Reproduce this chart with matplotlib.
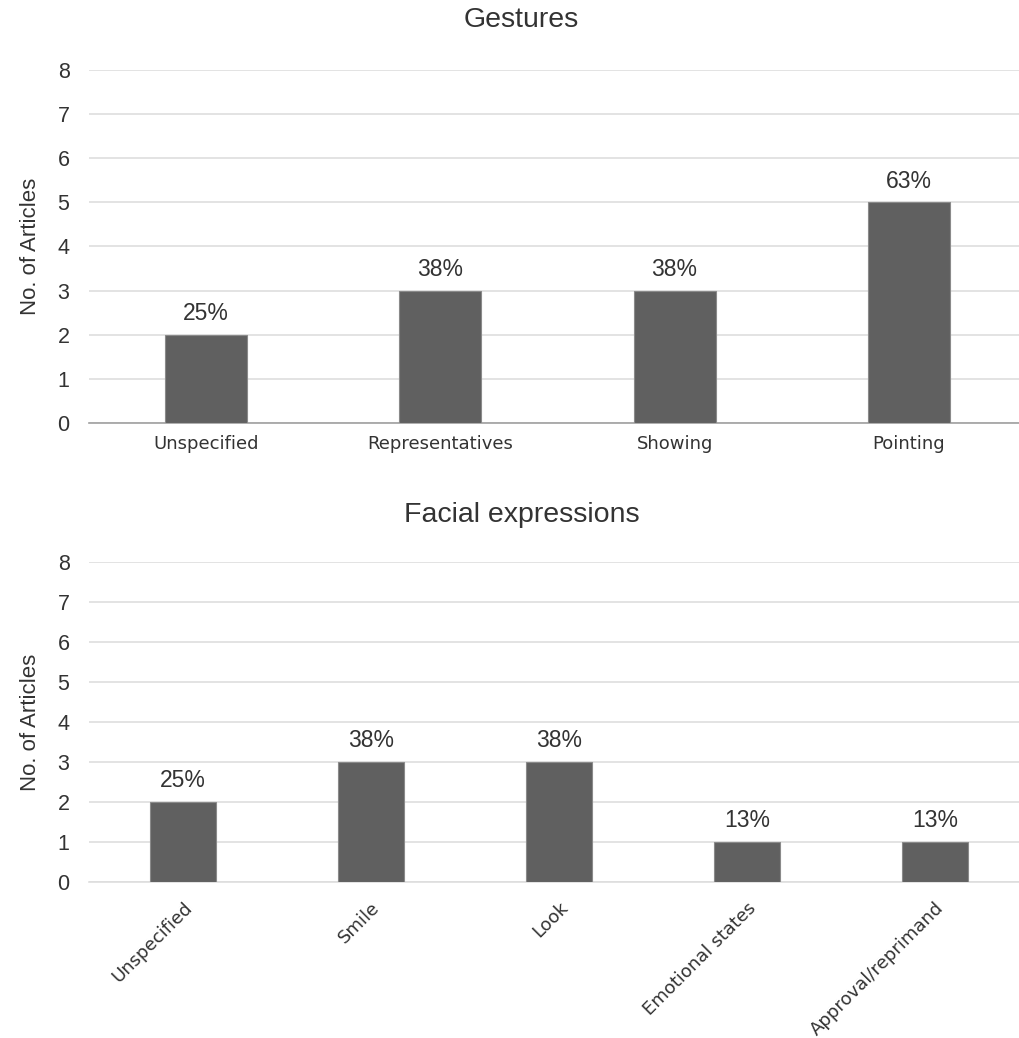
import matplotlib.pyplot as plt
import numpy as np

# data
gesture_cats = ["Unspecified", "Representatives", "Showing", "Pointing"]
gesture_counts = [2, 3, 3, 5]
gesture_pcts = ["25%", "38%", "38%", "63%"]

face_cats = ["Unspecified", "Smile", "Look", "Emotional states", "Approval/reprimand"]
face_counts = [2, 3, 3, 1, 1]
face_pcts = ["25%", "38%", "38%", "13%", "13%"]

yticks = list(range(0, 9))

BAR_COLOR = "#606060"
GRID_COLOR = "#dedede"
TEXT_COLOR = "#333333"
ARIAL = ["Liberation Sans", "DejaVu Sans"]

fig = plt.figure(figsize=(10.19, 10.38), dpi=100)


def draw_panel(ax, cats, counts, pcts, rotate):
    x = np.arange(len(cats))
    ax.bar(x, counts, width=0.35, color=BAR_COLOR, edgecolor="#8a8a8a",
           linewidth=0.8, zorder=3)
    for xi, c, p in zip(x, counts, pcts):
        ax.annotate(p, (xi, c), xytext=(0, 7), textcoords="offset points",
                    ha="center", va="bottom", fontsize=16.5, family=ARIAL,
                    color=TEXT_COLOR)
    ax.set_xlim(-0.5, len(cats) - 0.5)
    ax.set_ylim(0, 8)
    ax.set_yticks(yticks)
    ax.yaxis.grid(True, color=GRID_COLOR, linewidth=1.2, zorder=0)
    ax.set_axisbelow(True)
    for s in ["top", "right", "left"]:
        ax.spines[s].set_visible(False)
    ax.spines["bottom"].set_color("#a0a0a0" if not rotate else GRID_COLOR)
    ax.spines["bottom"].set_linewidth(1.2)
    ax.tick_params(axis="y", length=0, pad=14, labelsize=15.5,
                   labelcolor=TEXT_COLOR)
    for t in ax.get_yticklabels():
        t.set_family(ARIAL)
    ax.set_xticks(x)
    if rotate:
        ax.set_xticklabels(cats, rotation=45, ha="right",
                           rotation_mode="anchor", fontsize=13,
                           family="DejaVu Sans", color=TEXT_COLOR)
        ax.tick_params(axis="x", length=0, pad=12)
    else:
        ax.set_xticklabels(cats, fontsize=13, family="DejaVu Sans",
                           color=TEXT_COLOR)
        ax.tick_params(axis="x", length=0, pad=9)
    ax.set_ylabel("No. of Articles", fontsize=16, family=ARIAL,
                  color=TEXT_COLOR, labelpad=12)


ax1 = fig.add_axes([0.0873, 0.5925, 0.9195, 0.3401])
draw_panel(ax1, gesture_cats, gesture_counts, gesture_pcts, rotate=False)

ax2 = fig.add_axes([0.0873, 0.1503, 0.9225, 0.3083])
draw_panel(ax2, face_cats, face_counts, face_pcts, rotate=True)

fig.text(0.512, 0.981, "Gestures", ha="center", va="center", fontsize=20.5,
         family=ARIAL, color=TEXT_COLOR)
fig.text(0.512, 0.504, "Facial expressions", ha="center", va="center",
         fontsize=20.5, family=ARIAL, color=TEXT_COLOR)

fig.savefig("out.png", dpi=100)
